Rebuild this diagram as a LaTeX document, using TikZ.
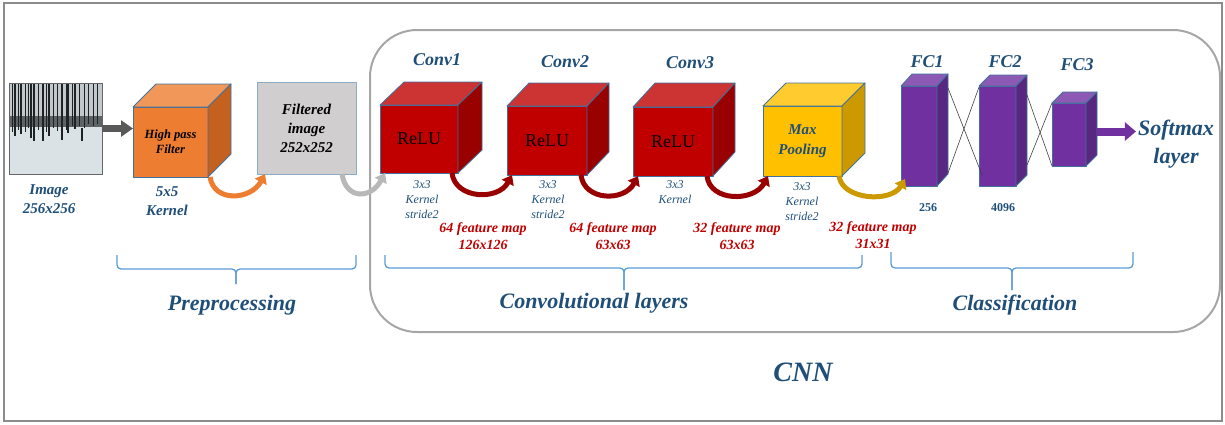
\documentclass[tikz,border=0pt]{standalone}
\usepackage{fontspec}
\setmainfont{Liberation Serif}
\usetikzlibrary{arrows.meta,calc}
\definecolor{txtblue}{HTML}{1F4E79}
\definecolor{fmred}{HTML}{C00000}
\definecolor{edgeblue}{HTML}{41719C}
\definecolor{braceblue}{HTML}{5B9BD5}
\definecolor{hpfront}{HTML}{ED7D31}
\definecolor{hptop}{HTML}{F1975A}
\definecolor{hpside}{HTML}{C4611F}
\definecolor{filtgray}{HTML}{D0CECE}
\definecolor{redfront}{HTML}{C00000}
\definecolor{redtop}{HTML}{CC3333}
\definecolor{redside}{HTML}{990000}
\definecolor{goldfront}{HTML}{FFC000}
\definecolor{goldtop}{HTML}{FFCB2E}
\definecolor{goldside}{HTML}{CC9A00}
\definecolor{purfront}{HTML}{7030A0}
\definecolor{purtop}{HTML}{8C5AB4}
\definecolor{purside}{HTML}{582780}
\definecolor{treecol}{HTML}{1E2224}
\definecolor{snowcol}{HTML}{DAE2E6}
\definecolor{skycol}{HTML}{C2C8CB}
\definecolor{woodcol}{HTML}{5E6366}
\begin{document}
\begin{tikzpicture}[x=1pt, y=-1pt,
  face/.style={draw=edgeblue, line width=0.8pt, line join=round},
  front/.style={face, inner sep=0pt, outer sep=0pt},
  bigtxt/.style={font=\bfseries\itshape\fontsize{22}{28}\selectfont, text=txtblue},
  title/.style={font=\bfseries\itshape\fontsize{18}{22}\selectfont, text=txtblue},
  info/.style={font=\bfseries\itshape\fontsize{15}{19}\selectfont, text=txtblue, align=center},
  kern/.style={font=\itshape\fontsize{12}{15}\selectfont, text=txtblue, align=center},
  fmap/.style={font=\bfseries\itshape\fontsize{14}{17}\selectfont, text=fmred, align=center},
  curvearrow/.style={line width=5pt, -{Triangle[length=9pt,width=13pt]}},
  blockarrow/.style={line width=7pt, -{Triangle[length=12pt,width=16pt]}},
  cross/.style={draw=black!75, line width=0.6pt},
  bracel/.style={draw=braceblue, line width=1.3pt, rounded corners=4pt}]
\useasboundingbox (0,0) rectangle (1225,424);
% frames
\draw[draw=black!45, line width=1.5pt] (4,3) rectangle (1222,421);
\draw[draw=black!35, line width=2pt, rounded corners=47pt] (370,30) rectangle (1220,332);
% input image
\node[draw=black!60, line width=0.6pt, fill=snowcol, minimum width=93pt, minimum height=91pt, inner sep=0pt, outer sep=0pt] (img) at (55.5,128.5) {};
\fill[skycol] (9.5,83.5) rectangle (101.5,118);
\fill[woodcol] (9.5,116) rectangle (101.5,127);
\foreach \tx/\tb/\tw in {12/132/1, 15/136/1.2, 18/130/0.8, 21/134/1.4, 25/132/1, 28/128/0.8, 31/138/1.6, 34/141/2.4, 38/130/1, 43/141/2.4, 46/132/1, 49/136/1.6, 53/128/0.8, 57/131/1, 62/140/2.6, 66/130/1, 68/133/2, 72/126/0.8, 75/129/1.2, 79/126/0.8, 84/128/1, 88/124/0.8, 93/126/1, 97/124/0.8}
  \draw[line width=\tw pt, treecol] (\tx,84) -- (\tx,\tb);
\draw[line width=1.6pt, treecol] (82,128) -- (82,141);
\node[info] (imglbl) at (49,199) {Image\\256x256};
% high pass filter
\node[front, fill=hpfront, minimum width=75pt, minimum height=70pt, font=\bfseries\itshape\fontsize{12.5}{15}\selectfont, align=center] (hp) at (170.5,142) {High pass\\Filter};
\filldraw[face, fill=hptop] (hp.north west) -- ++(23,-23) -- ++(75,0) -- (hp.north east) -- cycle;
\filldraw[face, fill=hpside] (hp.north east) -- ++(23,-23) -- ++(0,70) -- (hp.south east) -- cycle;
\node[info] (k5) at (167,201) {5x5\\Kernel};
% filtered image
\node[front, draw=edgeblue!60, fill=filtgray, minimum width=99pt, minimum height=92pt, font=\bfseries\itshape\fontsize{15}{19}\selectfont, align=center] (filt) at (306.5,128) {Filtered\\image\\252x252};
% conv layers
\node[front, fill=redfront, minimum width=78pt, minimum height=68pt, font=\fontsize{18}{22}\selectfont] (conv1) at (419,139) {ReLU};
\filldraw[face, fill=redtop] (conv1.north west) -- ++(24,-23) -- ++(78,0) -- (conv1.north east) -- cycle;
\filldraw[face, fill=redside] (conv1.north east) -- ++(24,-23) -- ++(0,68) -- (conv1.south east) -- cycle;
\node[front, fill=redfront, minimum width=80pt, minimum height=69pt, font=\fontsize{18}{22}\selectfont] (conv2) at (547,140.5) {ReLU};
\filldraw[face, fill=redtop] (conv2.north west) -- ++(22,-23) -- ++(80,0) -- (conv2.north east) -- cycle;
\filldraw[face, fill=redside] (conv2.north east) -- ++(22,-23) -- ++(0,69) -- (conv2.south east) -- cycle;
\node[front, fill=redfront, minimum width=80pt, minimum height=69pt, font=\fontsize{18}{22}\selectfont] (conv3) at (673,141.5) {ReLU};
\filldraw[face, fill=redtop] (conv3.north west) -- ++(22,-24) -- ++(80,0) -- (conv3.north east) -- cycle;
\filldraw[face, fill=redside] (conv3.north east) -- ++(22,-24) -- ++(0,69) -- (conv3.south east) -- cycle;
\node[front, fill=goldfront, minimum width=79pt, minimum height=70pt, font=\bfseries\itshape\fontsize{15}{20}\selectfont, text=txtblue, align=center] (maxp) at (802.5,141) {Max\\Pooling};
\filldraw[face, fill=goldtop] (maxp.north west) -- ++(23,-23) -- ++(79,0) -- (maxp.north east) -- cycle;
\filldraw[face, fill=goldside] (maxp.north east) -- ++(23,-23) -- ++(0,70) -- (maxp.south east) -- cycle;
\node[title] (t1) at (437,60) {Conv1};
\node[title] (t2) at (565,62) {Conv2};
\node[title] (t3) at (690,63) {Conv3};
\node[kern] (k1) at (422,200) {3x3\\Kernel\\stride2};
\node[kern] (k2) at (548,200) {3x3\\Kernel\\stride2};
\node[kern] (k3) at (675,192) {3x3\\Kernel};
\node[kern] (k4) at (802,202) {3x3\\Kernel\\stride2};
\node[fmap] (fm1) at (483,236.5) {64 feature map\\126x126};
\node[fmap] (fm2) at (613,236.5) {64 feature map\\63x63};
\node[fmap] (fm3) at (737,236.5) {32 feature map\\63x63};
\node[fmap] (fm4) at (873,235.5) {32 feature map\\31x31};
% fully connected
\node[front, fill=purfront, minimum width=36pt, minimum height=100pt] (fc1) at (919,136) {};
\filldraw[face, fill=purtop] (fc1.north west) -- ++(11,-12) -- ++(36,0) -- (fc1.north east) -- cycle;
\filldraw[face, fill=purside] (fc1.north east) -- ++(11,-12) -- ++(0,100) -- (fc1.south east) -- cycle;
\node[front, fill=purfront, minimum width=37pt, minimum height=100pt] (fc2) at (997.5,136) {};
\filldraw[face, fill=purtop] (fc2.north west) -- ++(11,-11) -- ++(37,0) -- (fc2.north east) -- cycle;
\filldraw[face, fill=purside] (fc2.north east) -- ++(11,-11) -- ++(0,100) -- (fc2.south east) -- cycle;
\node[front, fill=purfront, minimum width=34pt, minimum height=63pt] (fc3) at (1069,134.5) {};
\filldraw[face, fill=purtop] (fc3.north west) -- ++(11,-11) -- ++(34,0) -- (fc3.north east) -- cycle;
\filldraw[face, fill=purside] (fc3.north east) -- ++(11,-11) -- ++(0,63) -- (fc3.south east) -- cycle;
\node[title] (f1) at (927,62) {FC1};
\node[title] (f2) at (1005,62) {FC2};
\node[title] (f3) at (1077,65) {FC3};
\node[font=\bfseries\fontsize{12}{14}\selectfont, text=txtblue] (n256) at (928,208) {256};
\node[font=\bfseries\fontsize{12}{14}\selectfont, text=txtblue] (n4096) at (1003,208) {4096};
\draw[cross] ($(fc1.north east)+(11,2)$) -- ($(fc2.south west)+(3,-11)$);
\draw[cross] ($(fc1.south east)+(11,-13)$) -- ($(fc2.north west)+(0,1)$);
\draw[cross] ($(fc2.north east)+(11,9)$) -- (fc3.south west);
\draw[cross] ($(fc2.south east)+(11,-21)$) -- (fc3.north west);
\node[bigtxt, align=center, inner sep=0pt] (soft) at (1176,144) {Softmax\\layer};
\coordinate (fc3out) at ($(fc3.east)+(11,-3)$);
% arrows
\draw[blockarrow, draw=black!65] (img.east) -- (img.east -| hp.west);
\draw[line width=8pt, purfront, -{Triangle[length=11pt,width=18pt]}] (fc3out) -- ($(fc3out -| soft.west)+(-2,0)$);
\draw[curvearrow, draw=hpfront] ([xshift=2pt]hp.south east) .. controls +(4,26) and +(-14,26) .. ([xshift=8pt]filt.south west);
\draw[curvearrow, draw=black!28] ([xshift=-14pt]filt.south east) .. controls +(4,26) and +(-14,26) .. ([xshift=5pt]conv1.south west);
\draw[curvearrow, draw=redside] ([xshift=-6pt]conv1.south east) .. controls +(3,26) and +(-14,26) .. ([xshift=5pt]conv2.south west);
\draw[curvearrow, draw=redside] ([xshift=-6pt]conv2.south east) .. controls +(3,26) and +(-14,26) .. ([xshift=5pt]conv3.south west);
\draw[curvearrow, draw=redside] ([xshift=-6pt]conv3.south east) .. controls +(3,26) and +(-14,26) .. ([xshift=5pt]maxp.south west);
\draw[curvearrow, draw=goldside] ([xshift=-3pt]maxp.south east) .. controls +(3,24) and +(-14,24) .. ([xshift=4pt,yshift=7pt]fc1.south west);
% braces
\draw[bracel] (117,255) -- (117,269) -- (236,269) -- (236,284);
\draw[bracel] (356,255) -- (356,269) -- (236,269) -- (236,284);
\draw[bracel] (385,255) -- (385,268) -- (624,268) -- (624,290);
\draw[bracel] (862,255) -- (862,268) -- (624,268) -- (624,290);
\draw[bracel] (891,252) -- (891,268) -- (1012,268) -- (1012,290);
\draw[bracel] (1133,252) -- (1133,268) -- (1012,268) -- (1012,290);
\node[bigtxt] (lprep) at (232,305) {Preprocessing};
\node[bigtxt] (lconv) at (594,303) {Convolutional layers};
\node[bigtxt] (lclass) at (1015,305) {Classification};
\node[font=\bfseries\itshape\fontsize{28}{34}\selectfont, text=txtblue] (cnn) at (803,372) {CNN};
\end{tikzpicture}
\end{document}
